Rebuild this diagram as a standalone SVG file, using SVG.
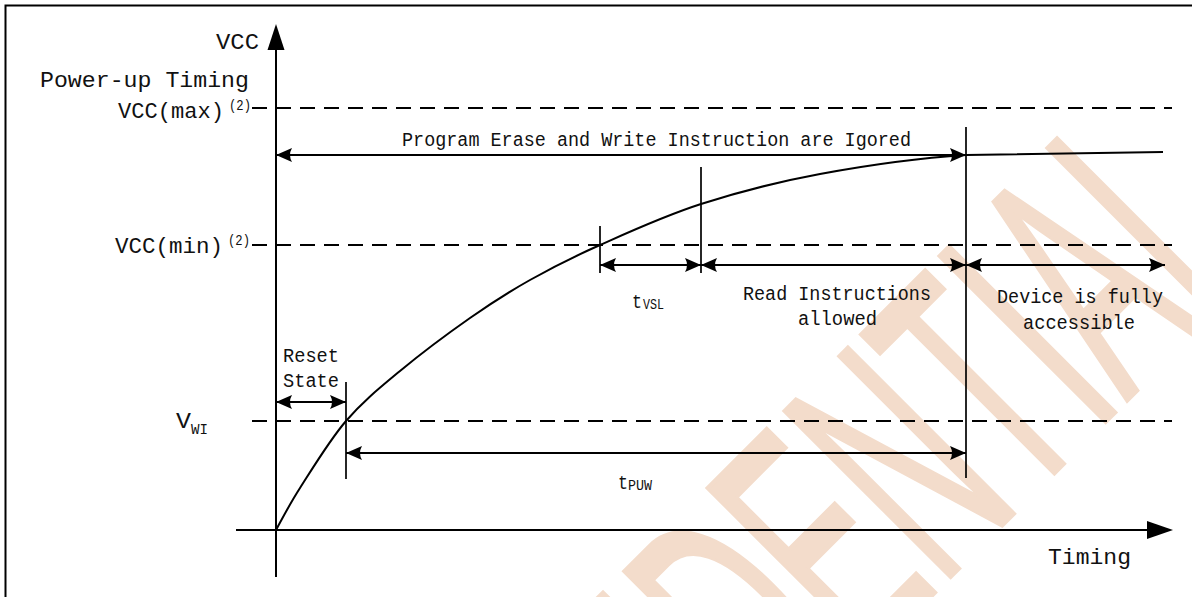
<svg xmlns="http://www.w3.org/2000/svg" width="1192" height="597" viewBox="0 0 1192 597">
<style>
 .ln{stroke:#000;stroke-width:2;fill:none}
 .tk{stroke:#000;stroke-width:1.7;fill:none}
 .dash{stroke:#000;stroke-width:2;stroke-dasharray:15 9;fill:none}
 .arr{stroke:#000;stroke-width:2;fill:none;marker-start:url(#ah);marker-end:url(#ah)}
 text{font-family:"Liberation Mono","DejaVu Sans Mono",monospace;fill:#111}
 .t22{font-size:22px}
 .t20{font-size:20px}
 .sub{font-size:14px}
 .wm{font-family:"Liberation Sans",Arial,sans-serif;font-size:340px;fill:#F3DCCB;stroke:#F3DCCB;stroke-width:5}
</style>
<defs>
 <marker id="ah" viewBox="0 0 16 14" refX="16" refY="7" markerWidth="16" markerHeight="14" markerUnits="userSpaceOnUse" orient="auto-start-reverse">
  <path d="M0,0 L16,7 L0,14 Q4,7 0,0 Z" fill="#000"/>
 </marker>
</defs>
<rect width="1192" height="597" fill="#fff"/>
<g id="watermark">
 <text class="wm" transform="translate(421,1106) rotate(-45) scale(0.48,1)">CONFIDENTIAL</text>
</g>
<rect id="frame" x="5.5" y="5.5" width="1200" height="600" fill="none" stroke="#000" stroke-width="2"/>
<g id="axes">
 <line class="ln" x1="276" y1="577" x2="276" y2="44"/>
 <polygon points="276,24 267.5,50 284.5,50" fill="#000"/>
 <line class="ln" x1="236" y1="530" x2="1150" y2="530"/>
 <polygon points="1173,530 1147,521 1147,539" fill="#000"/>
</g>
<g id="levels">
 <line class="dash" x1="252" y1="108" x2="1172" y2="108"/>
 <line class="dash" x1="252" y1="245" x2="1172" y2="245"/>
 <line class="dash" x1="252" y1="421" x2="1172" y2="421"/>
</g>
<g id="curve">
 <path class="ln" d="M276,530 C280,523 288.3,506.2 300,488 C311.7,469.8 329.3,440.5 346,421 C362.7,401.5 379.3,388.2 400,371 C420.7,353.8 448.3,333.2 470,318 C491.7,302.8 508.3,292.2 530,280 C551.7,267.8 571.5,257.7 600,245 C628.5,232.3 664.3,215.8 701,204 C737.7,192.2 775.8,182.2 820,174 C864.2,165.8 908.8,158.7 966,155 L1163,152"/>
</g>
<g id="ticks">
 <line class="tk" x1="346" y1="382" x2="346" y2="479"/>
 <line class="tk" x1="600" y1="226" x2="600" y2="273"/>
 <line class="tk" x1="701" y1="167" x2="701" y2="273"/>
 <line class="tk" x1="966" y1="127" x2="966" y2="478"/>
</g>
<g id="connectors">
 <line class="arr" x1="276" y1="155" x2="966" y2="155"/>
 <line class="arr" x1="600" y1="265" x2="701" y2="265"/>
 <line class="arr" x1="701" y1="265" x2="966" y2="265"/>
 <line class="arr" x1="966" y1="265" x2="1165" y2="265"/>
 <line class="arr" x1="276" y1="402" x2="346" y2="402"/>
 <line class="arr" x1="346" y1="453" x2="966" y2="453"/>
</g>
<g id="labels">
 <text class="t22" x="216" y="49" textLength="43" lengthAdjust="spacingAndGlyphs">VCC</text>
 <text class="t22" x="40" y="87" textLength="209" lengthAdjust="spacingAndGlyphs">Power-up Timing</text>
 <text class="t22" x="118" y="118" textLength="106" lengthAdjust="spacingAndGlyphs">VCC(max)</text>
 <text class="sub" x="229" y="110" textLength="22" lengthAdjust="spacingAndGlyphs">(2)</text>
 <text class="t22" x="115" y="253" textLength="108" lengthAdjust="spacingAndGlyphs">VCC(min)</text>
 <text class="sub" x="228" y="245" textLength="22" lengthAdjust="spacingAndGlyphs">(2)</text>
 <text class="t22" x="176" y="428" textLength="15" lengthAdjust="spacingAndGlyphs">V</text>
 <text class="sub" x="191" y="434" textLength="17" lengthAdjust="spacingAndGlyphs">WI</text>
 <text class="t20" x="402" y="146" textLength="509" lengthAdjust="spacingAndGlyphs">Program Erase and Write Instruction are Igored</text>
 <text class="t20" x="283" y="362" textLength="56" lengthAdjust="spacingAndGlyphs">Reset</text>
 <text class="t20" x="283" y="387" textLength="56" lengthAdjust="spacingAndGlyphs">State</text>
 <text class="t20" x="632" y="308" textLength="10" lengthAdjust="spacingAndGlyphs">t</text>
 <text class="sub" x="643" y="309" textLength="21" lengthAdjust="spacingAndGlyphs">VSL</text>
 <text class="t20" x="743" y="300" textLength="188" lengthAdjust="spacingAndGlyphs">Read Instructions</text>
 <text class="t20" x="798" y="325" textLength="79" lengthAdjust="spacingAndGlyphs">allowed</text>
 <text class="t20" x="997" y="303" textLength="166" lengthAdjust="spacingAndGlyphs">Device is fully</text>
 <text class="t20" x="1023" y="329" textLength="112" lengthAdjust="spacingAndGlyphs">accessible</text>
 <text class="t20" x="618" y="489" textLength="10" lengthAdjust="spacingAndGlyphs">t</text>
 <text class="sub" x="628" y="490" textLength="24" lengthAdjust="spacingAndGlyphs">PUW</text>
 <text class="t22" x="1048" y="564" textLength="83" lengthAdjust="spacingAndGlyphs">Timing</text>
</g>
</svg>
